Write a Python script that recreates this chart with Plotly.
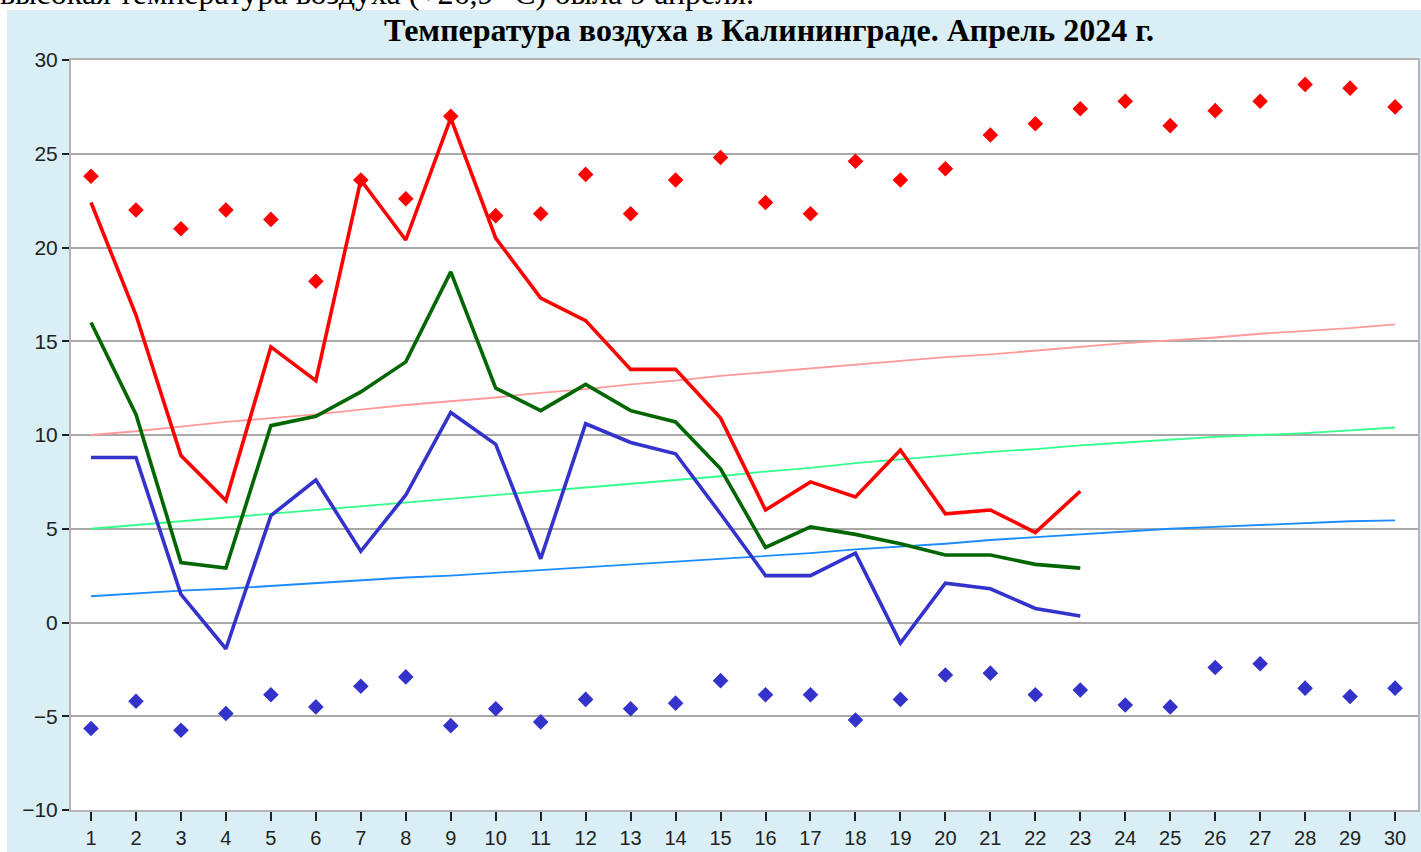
import plotly.graph_objects as go

days = list(range(1, 31))
days_obs = list(range(1, 24))

t_max = [22.4, 16.4, 8.9, 6.5, 14.7, 12.9, 23.6, 20.4, 26.9, 20.5, 17.3, 16.1, 13.5, 13.5,
         10.9, 6.0, 7.5, 6.7, 9.2, 5.8, 6.0, 4.8, 7.0]
t_mean = [16.0, 11.1, 3.2, 2.9, 10.5, 11.0, 12.3, 13.9, 18.7, 12.5, 11.3, 12.7, 11.3, 10.7,
          8.2, 4.0, 5.1, 4.7, 4.2, 3.6, 3.6, 3.1, 2.9]
t_min = [8.8, 8.8, 1.5, -1.4, 5.7, 7.6, 3.8, 6.8, 11.2, 9.5, 3.4, 10.6, 9.6, 9.0,
         5.8, 2.5, 2.5, 3.7, -1.1, 2.1, 1.8, 0.75, 0.35]

rec_max = [23.8, 22.0, 21.0, 22.0, 21.5, 18.2, 23.6, 22.6, 27.0, 21.7, 21.8, 23.9, 21.8, 23.6, 24.8,
           22.4, 21.8, 24.6, 23.6, 24.2, 26.0, 26.6, 27.4, 27.8, 26.5, 27.3, 27.8, 28.7, 28.5, 27.5]
rec_min = [-5.65, -4.2, -5.75, -4.85, -3.85, -4.5, -3.4, -2.9, -5.5, -4.6, -5.3, -4.1, -4.6, -4.3, -3.1,
           -3.85, -3.85, -5.2, -4.1, -2.8, -2.7, -3.85, -3.6, -4.4, -4.5, -2.4, -2.2, -3.5, -3.95, -3.5]

norm_max = [10.0, 10.2, 10.45, 10.7, 10.9, 11.1, 11.35, 11.6, 11.8, 12.0, 12.25, 12.45, 12.7, 12.9, 13.15,
            13.35, 13.55, 13.75, 13.95, 14.15, 14.3, 14.5, 14.7, 14.9, 15.05, 15.2, 15.4, 15.55, 15.7, 15.9]
norm_mean = [5.0, 5.2, 5.4, 5.6, 5.8, 6.0, 6.2, 6.4, 6.6, 6.8, 7.0, 7.2, 7.4, 7.6, 7.8,
             8.05, 8.25, 8.5, 8.7, 8.9, 9.1, 9.25, 9.45, 9.6, 9.75, 9.9, 10.0, 10.1, 10.25, 10.4]
norm_min = [1.4, 1.55, 1.7, 1.8, 1.95, 2.1, 2.25, 2.4, 2.5, 2.65, 2.8, 2.95, 3.1, 3.25, 3.4,
            3.55, 3.7, 3.9, 4.05, 4.2, 4.4, 4.55, 4.7, 4.85, 5.0, 5.1, 5.2, 5.3, 5.4, 5.45]

y_ticks = [-10, -5, 0, 5, 10, 15, 20, 25, 30]

title_text = "Температура воздуха в Калининграде. Апрель 2024 г."
top_text = "высокая температура воздуха (+26,9 °C) была 9 апреля."

W, H = 1421, 852
ML, MR, MT, MB = 71, 3, 60, 42
PW, PH = W - ML - MR, H - MT - MB

def px_x(x):
    return (x - ML) / PW

def px_y(y):
    return (H - MB - y) / PH

fig = go.Figure()

fig.add_trace(go.Scatter(x=days, y=norm_max, mode="lines", line=dict(color="#ff9a9a", width=1.8), hoverinfo="skip"))
fig.add_trace(go.Scatter(x=days, y=norm_mean, mode="lines", line=dict(color="#33ff8c", width=1.8), hoverinfo="skip"))
fig.add_trace(go.Scatter(x=days, y=norm_min, mode="lines", line=dict(color="#1a8cff", width=1.8), hoverinfo="skip"))

fig.add_trace(go.Scatter(x=days, y=rec_max, mode="markers",
                         marker=dict(symbol="diamond", size=12, color="#ff0000", line=dict(width=0))))
fig.add_trace(go.Scatter(x=days, y=rec_min, mode="markers",
                         marker=dict(symbol="diamond", size=12, color="#3333cc", line=dict(width=0))))

fig.add_trace(go.Scatter(x=days_obs, y=t_min, mode="lines", line=dict(color="#3333cc", width=3.6)))
fig.add_trace(go.Scatter(x=days_obs, y=t_mean, mode="lines", line=dict(color="#006600", width=3.6)))
fig.add_trace(go.Scatter(x=days_obs, y=t_max, mode="lines", line=dict(color="#ff0000", width=3.6)))

shapes = [
    dict(type="rect", xref="paper", yref="paper", x0=px_x(-5), x1=px_x(W + 5), y0=px_y(10), y1=px_y(-5),
         fillcolor="#ffffff", line=dict(width=0), layer="below"),
    dict(type="rect", xref="paper", yref="paper", x0=px_x(-5), x1=px_x(7), y0=px_y(H + 5), y1=px_y(-5),
         fillcolor="#ffffff", line=dict(width=0), layer="below"),
]

annotations = [
    dict(text="<b>" + title_text + "</b>", xref="paper", yref="paper", x=px_x(769), y=px_y(30),
         xanchor="center", yanchor="middle", showarrow=False,
         font=dict(family="Liberation Serif", size=32, color="#000000")),
    dict(text=top_text, xref="paper", yref="paper", x=px_x(-2), y=px_y(13),
         xanchor="left", yanchor="bottom", showarrow=False,
         font=dict(family="Liberation Serif", size=32, color="#000000")),
]

fig.update_layout(
    width=W, height=H,
    margin=dict(l=ML, r=MR, t=MT, b=MB, pad=0),
    paper_bgcolor="#d9eff5",
    plot_bgcolor="#ffffff",
    showlegend=False,
    shapes=shapes,
    annotations=annotations,
    xaxis=dict(
        range=[0.555, 30.51], tickmode="array", tickvals=days, ticktext=[str(d) for d in days],
        showgrid=False, zeroline=False, showline=True, linecolor="#b4b4b4", linewidth=2, mirror=True,
        ticks="outside", ticklen=9, tickwidth=2, tickcolor="#222222", automargin=False,
        tickfont=dict(family="Liberation Sans", size=20, color="#222222"),
    ),
    yaxis=dict(
        range=[-10, 30], tickmode="array", tickvals=y_ticks,
        showgrid=True, gridcolor="#a8a8a8", gridwidth=2, zeroline=False,
        showline=True, linecolor="#b4b4b4", linewidth=2, mirror=True, automargin=False,
        ticks="outside", ticklen=7, tickwidth=2, tickcolor="#222222",
        tickfont=dict(family="Liberation Sans", size=21, color="#222222"),
    ),
)

fig.write_html("out.html", config={"displayModeBar": False},
               post_script="document.body.style.margin='0px';document.body.style.overflow='hidden';")
